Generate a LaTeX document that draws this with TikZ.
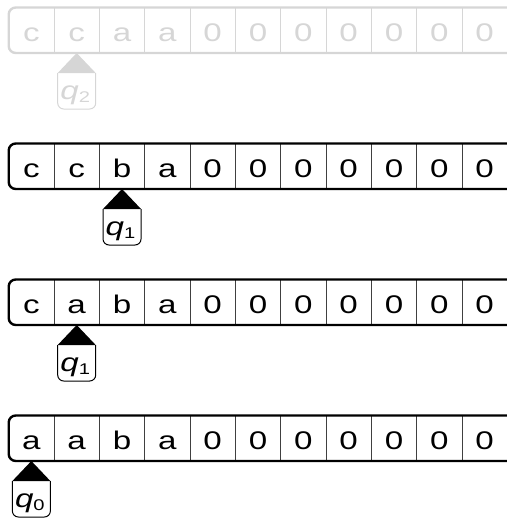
\documentclass[tikz,border=0pt]{standalone}
\usepackage{fontspec}
\setmainfont{Liberation Sans}
\newfontfamily\tapefont[FakeStretch=1.3]{Liberation Sans}
\definecolor{lightg}{HTML}{D6D6D6}
\begin{document}
\begin{tikzpicture}[x=1pt,y=-1pt,
  cell/.style={font=\tapefont\fontsize{25.5}{25.5}\selectfont, anchor=base, inner sep=0pt},
  qlabel/.style={font=\tapefont\fontsize{25.5}{25.5}\selectfont, anchor=base, inner sep=0pt},
  divider/.style={line width=0.9pt},
  tapeborder/.style={line width=2.4pt, rounded corners=7pt},
  headline/.style={line width=1pt, rounded corners=6pt}]
\useasboundingbox (0,0) rectangle (506,519);
\def\cw{45.33}
\foreach \k/\tc/\dc/\hi/\qq/\cells in {
  0/lightg/lightg/1/2/{c,c,a,a,0,0,0,0,0,0,0},
  1/black/black!75/2/1/{c,c,b,a,0,0,0,0,0,0,0},
  2/black/black!75/1/1/{c,a,b,a,0,0,0,0,0,0,0},
  3/black/black!75/0/0/{a,a,b,a,0,0,0,0,0,0,0}}{
  \pgfmathsetmacro\yt{7.5+136*\k}
  \pgfmathsetmacro\yb{\yt+45.5}
  \foreach \s [count=\i from 0] in \cells {
    \node[cell, text=\tc] (t\k c\i) at ({8.7+\cw*(\i+0.5)}, {\yt+34.4}) {\s};
  }
  \foreach \i in {1,...,10} {
    \draw[divider, draw=\dc] ({8.7+\cw*\i},\yt) -- ({8.7+\cw*\i},\yb);
  }
  \draw[tapeborder, draw=\tc] (512,\yt) -- (8.7,\yt) -- (8.7,\yb) -- (512,\yb);
  \pgfmathsetmacro\hx{8.7+\cw*(\hi+0.5)}
  \fill[\tc] (\hx,\yb) -- ({\hx-19},{\yb+20}) -- ({\hx+19},{\yb+20}) -- cycle;
  \draw[headline, draw=\tc] ({\hx-19},{\yb+20}) -- ({\hx-19},{\yb+56}) -- ({\hx+19},{\yb+56}) -- ({\hx+19},{\yb+20});
  \node[qlabel, text=\tc] (h\k) at ({\hx-1.5},{\yb+46}) {\textit{q}\raisebox{-3.5pt}{\fontsize{15.5}{15.5}\selectfont\qq}};
}
\end{tikzpicture}
\end{document}
